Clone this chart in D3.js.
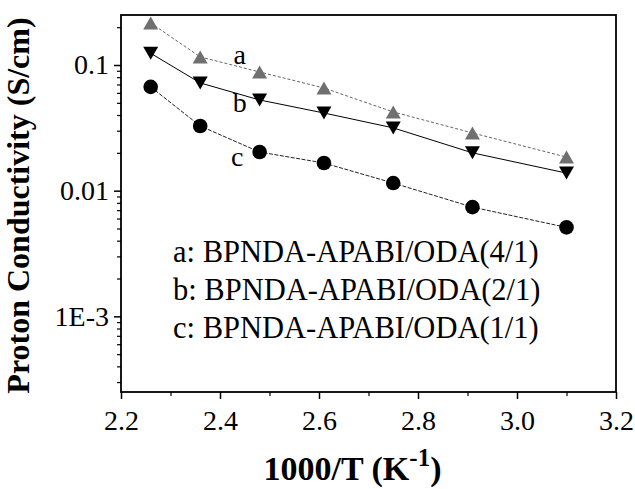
<!DOCTYPE html>
<html>
<head>
<meta charset="utf-8">
<script src="https://cdn.jsdelivr.net/npm/d3@7"></script>
<style>
  body { margin: 0; background: #fff; }
  text { font-family: "Liberation Serif", "Times New Roman", serif; }
</style>
</head>
<body>
<svg></svg>
<script>
// data
var invT = [2.26, 2.36, 2.48, 2.61, 2.75, 2.91, 3.10];
var seriesA = [0.216, 0.116, 0.088, 0.0656, 0.0423, 0.0288, 0.0185];
var seriesB = [0.124, 0.072, 0.0527, 0.0415, 0.0316, 0.020, 0.0138];
var seriesC = [0.067, 0.0327, 0.0203, 0.0166, 0.0115, 0.0074, 0.0051];
var legendLabels = ["a: BPNDA-APABI/ODA(4/1)", "b: BPNDA-APABI/ODA(2/1)", "c: BPNDA-APABI/ODA(1/1)"];
var xTicks = [2.2, 2.4, 2.6, 2.8, 3.0, 3.2];
var xMinor = [2.3, 2.5, 2.7, 2.9, 3.1];
var yTicks = [0.1, 0.01, 0.001];
var yTickLabels = ["0.1", "0.01", "1E-3"];

// set the dimensions and margins of the graph
var margin = {top: 15, right: 19, bottom: 97, left: 121},
    width = 635 - margin.left - margin.right,
    height = 489 - margin.top - margin.bottom;

var serif = "Liberation Serif, Times New Roman, serif";

var svg = d3.select("svg")
    .attr("width", 635)
    .attr("height", 489)
  .append("g")
    .attr("transform", "translate(" + margin.left + "," + margin.top + ")");

var x = d3.scaleLinear().domain([2.2, 3.2]).range([0, width]);
var y = d3.scaleLog().domain([2.5e-4, 0.25]).range([height, 0]);

// minor y ticks 2..9 of each decade
var yMinor = [];
[1e-4, 1e-3, 1e-2, 1e-1].forEach(function(d) {
  for (var k = 2; k <= 9; k++) {
    var v = d * k;
    if (v >= 2.5e-4 && v <= 0.25) yMinor.push(v);
  }
});

// x axis
svg.append("g")
    .attr("transform", "translate(0," + height + ")")
    .call(d3.axisBottom(x).tickValues(xTicks).tickSize(7).tickFormat(d3.format(".1f")))
    .call(function(g) {
      g.select(".domain").remove();
      g.selectAll("line").attr("stroke-width", 1.5);
      g.selectAll("text")
        .style("font-family", serif)
        .style("font-size", "28px")
        .attr("dy", "1.0em")
        .attr("fill", "#000");
    });
svg.append("g")
    .attr("transform", "translate(0," + height + ")")
    .call(d3.axisBottom(x).tickValues(xMinor).tickSize(4).tickFormat(""))
    .call(function(g) {
      g.select(".domain").remove();
      g.selectAll("line").attr("stroke-width", 1.2);
    });

// y axis
svg.append("g")
    .call(d3.axisLeft(y).tickValues(yTicks).tickSize(7)
      .tickFormat(function(d, i) { return yTickLabels[i]; }))
    .call(function(g) {
      g.select(".domain").remove();
      g.selectAll("line").attr("stroke-width", 1.5);
      g.selectAll("text")
        .style("font-family", serif)
        .style("font-size", "28px")
        .attr("x", -12)
        .attr("fill", "#000");
    });
svg.append("g")
    .call(d3.axisLeft(y).tickValues(yMinor).tickSize(4).tickFormat(""))
    .call(function(g) {
      g.select(".domain").remove();
      g.selectAll("line").attr("stroke-width", 1.2);
    });

// frame
svg.append("rect")
    .attr("width", width)
    .attr("height", height)
    .attr("fill", "none")
    .attr("stroke", "#000")
    .attr("stroke-width", 1.8);

// series
var series = [
  {name: "a", values: seriesA, stroke: "#666", dash: "3,2", fill: "#707070", shape: "up"},
  {name: "b", values: seriesB, stroke: "#000", dash: null, fill: "#000", shape: "down"},
  {name: "c", values: seriesC, stroke: "#222", dash: "4,1.5", fill: "#000", shape: "circle"}
];

var line = d3.line()
    .x(function(d) { return x(d[0]); })
    .y(function(d) { return y(d[1]); });

function marker(shape) {
  var w = 15, h = 13;
  if (shape === "up") return "M0," + (-h / 2) + "L" + (w / 2) + "," + (h / 2) + "L" + (-w / 2) + "," + (h / 2) + "Z";
  if (shape === "down") return "M0," + (h / 2) + "L" + (w / 2) + "," + (-h / 2) + "L" + (-w / 2) + "," + (-h / 2) + "Z";
  return d3.symbol().type(d3.symbolCircle).size(Math.PI * 7.3 * 7.3)();
}

series.forEach(function(s) {
  var pts = invT.map(function(t, i) { return [t, s.values[i]]; });
  svg.append("path")
      .datum(pts)
      .attr("d", line)
      .attr("fill", "none")
      .attr("stroke", s.stroke)
      .attr("stroke-width", 1)
      .attr("stroke-dasharray", s.dash);
  svg.append("g")
    .selectAll("path")
    .data(pts)
    .enter()
    .append("path")
      .attr("transform", function(d) { return "translate(" + x(d[0]) + "," + y(d[1]) + ")"; })
      .attr("d", marker(s.shape))
      .attr("fill", s.fill);
});

// curve labels
var curveLabels = [
  {t: "a", x: 2.44, y: 0.101},
  {t: "b", x: 2.44, y: 0.042},
  {t: "c", x: 2.435, y: 0.0158}
];
svg.selectAll(".clabel")
  .data(curveLabels)
  .enter()
  .append("text")
    .attr("class", "clabel")
    .attr("x", function(d) { return x(d.x); })
    .attr("y", function(d) { return y(d.y); })
    .attr("text-anchor", "middle")
    .attr("font-size", 28)
    .text(function(d) { return d.t; });

// legend text
svg.selectAll(".legend")
  .data(legendLabels)
  .enter()
  .append("text")
    .attr("class", "legend")
    .attr("x", 52)
    .attr("y", function(d, i) { return 247 + i * 38; })
    .attr("font-size", 30.5)
    .text(function(d) { return d; });

// axis titles
svg.append("text")
    .attr("x", width / 2 - 16)
    .attr("y", height + 88)
    .attr("text-anchor", "middle")
    .attr("font-size", 34)
    .attr("font-weight", "bold")
    .html('1000/T (K<tspan dy="-14" font-size="25">-1</tspan><tspan dy="14">)</tspan>');

svg.append("text")
    .attr("transform", "translate(-92," + (height / 2 + 2) + ") rotate(-90)")
    .attr("text-anchor", "middle")
    .attr("font-size", 32)
    .attr("font-weight", "bold")
    .text("Proton Conductivity (S/cm)");
</script>
</body>
</html>
